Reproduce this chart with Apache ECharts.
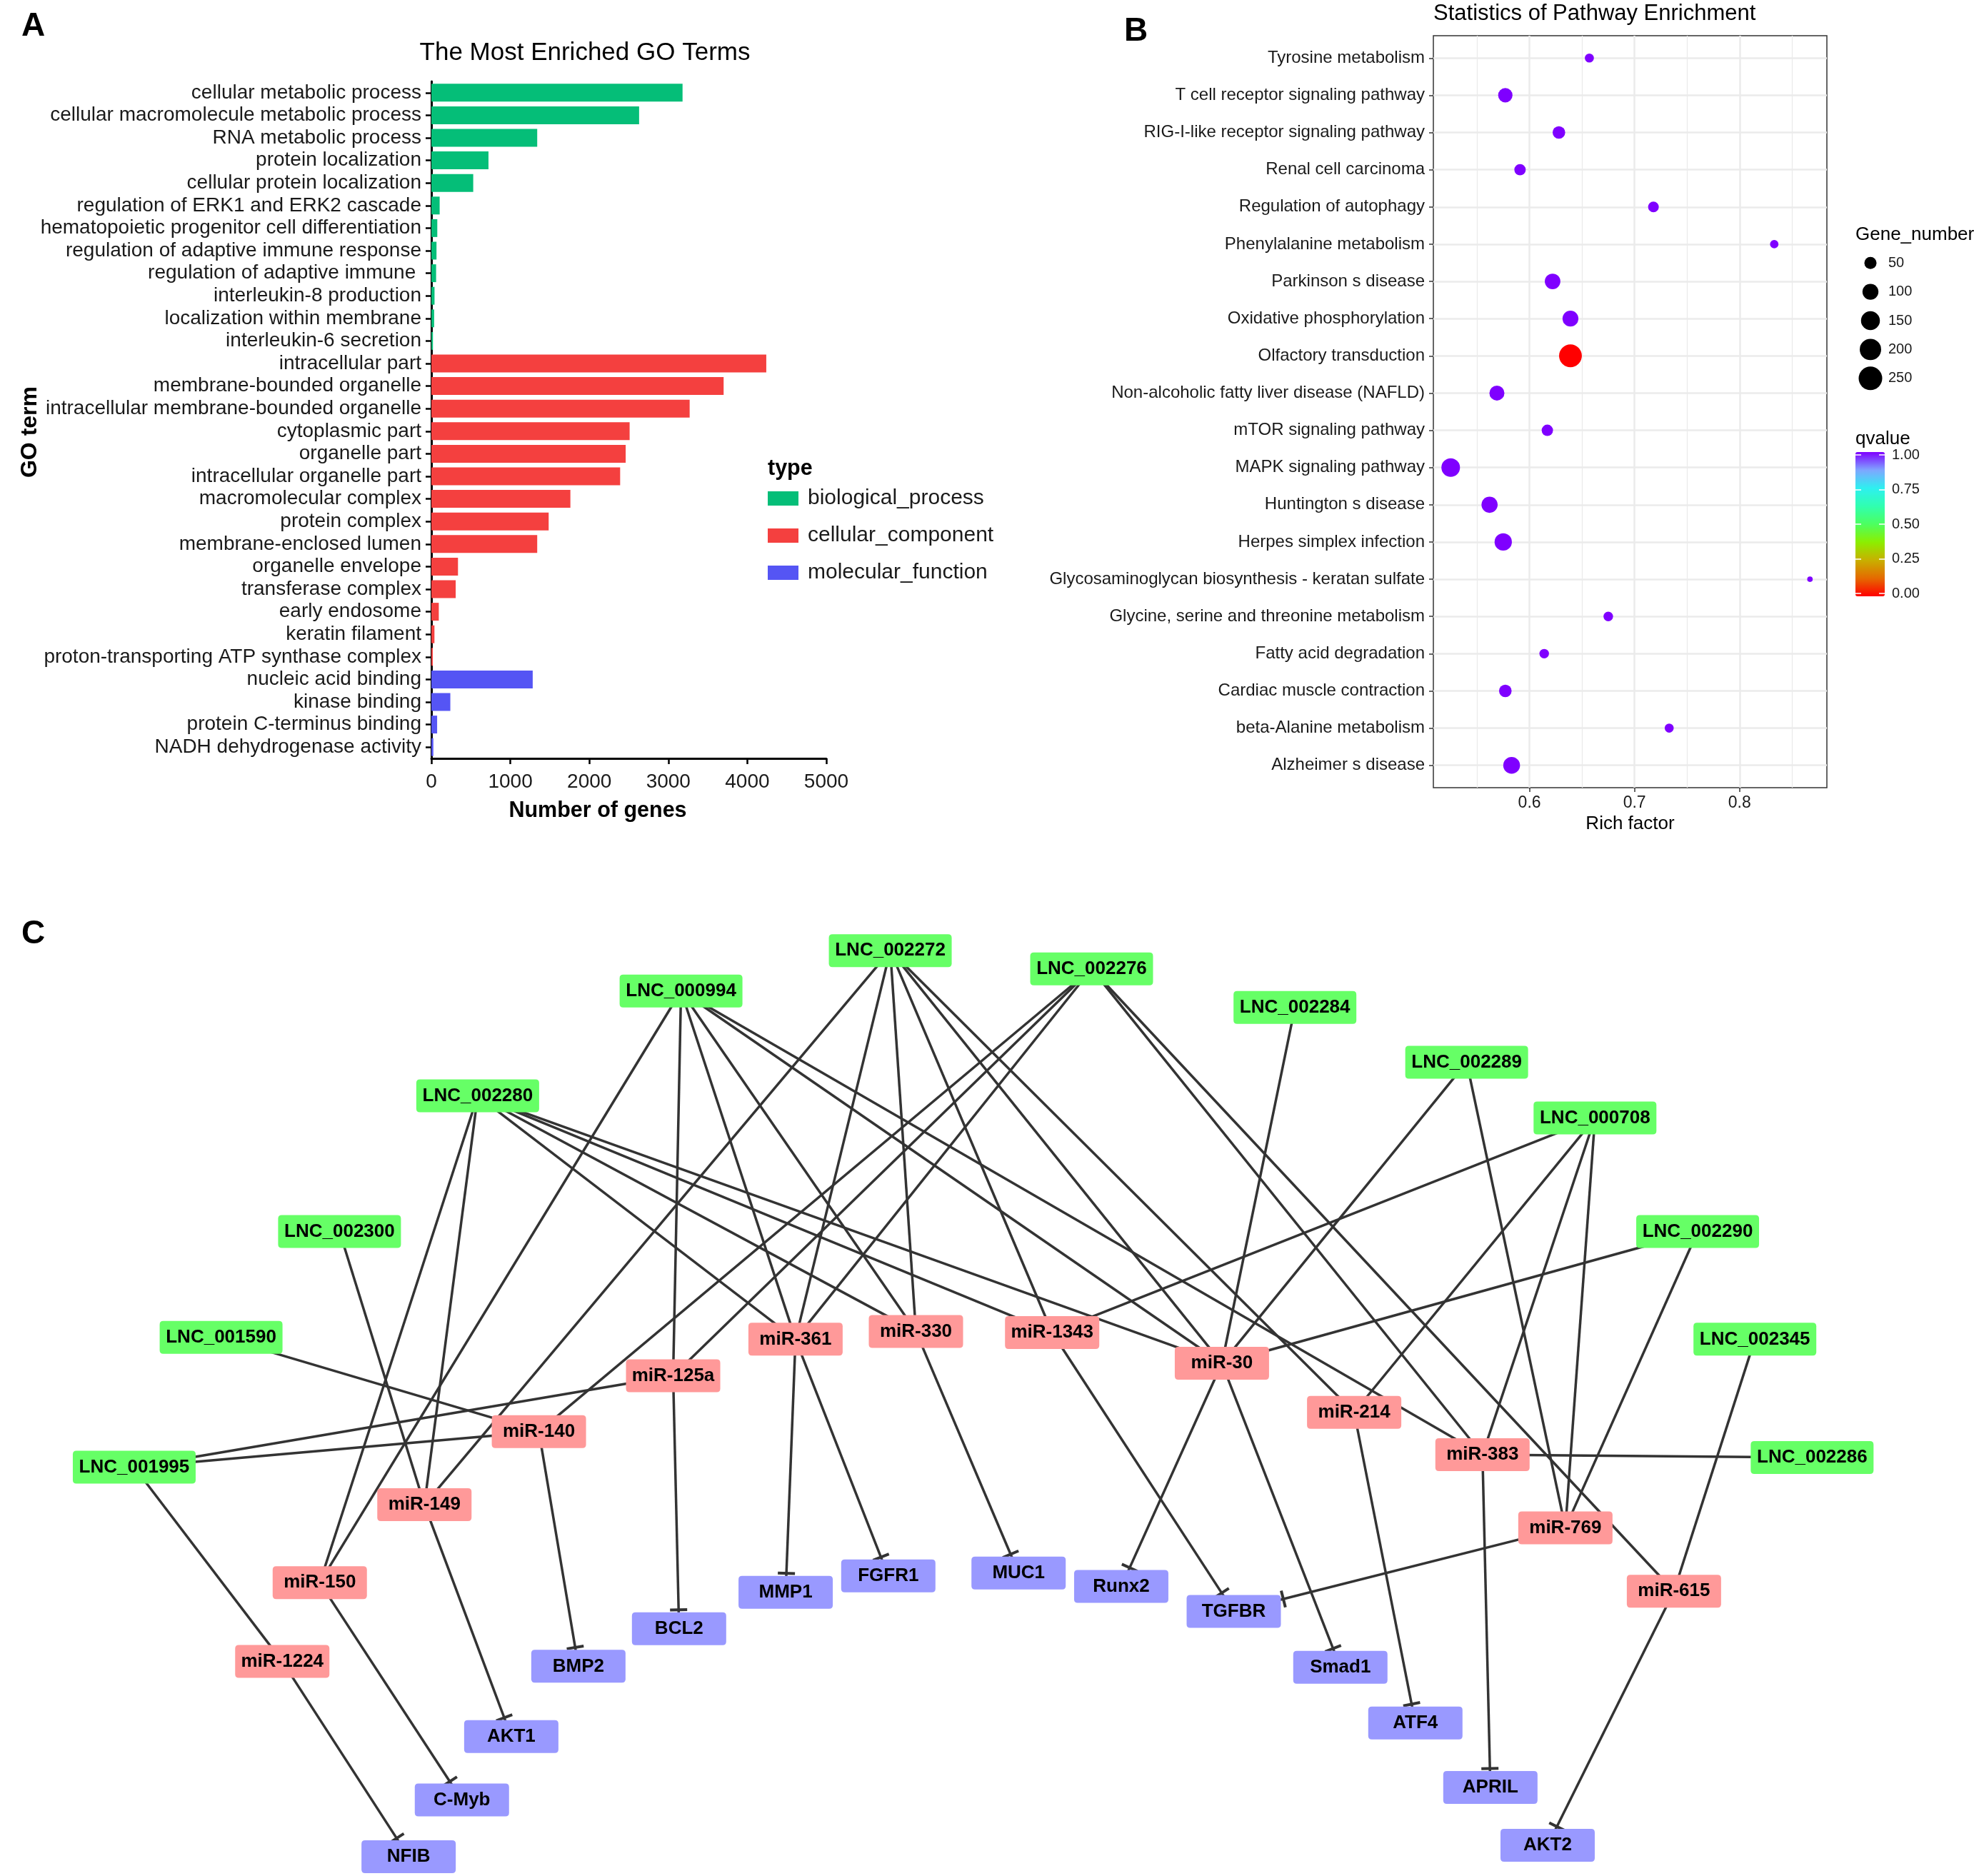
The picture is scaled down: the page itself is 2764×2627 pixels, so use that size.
<!DOCTYPE html>
<html><head><meta charset="utf-8">
<script src="https://cdn.jsdelivr.net/npm/echarts/dist/echarts.min.js"></script>
<style>html,body{margin:0;padding:0;background:#fff}#c{width:2764px;height:2627px}</style>
</head><body><div id="c"></div><script>
// ---------- Panel A data ----------
const bpTerms = ['cellular metabolic process','cellular macromolecule metabolic process','RNA metabolic process','protein localization','cellular protein localization','regulation of ERK1 and ERK2 cascade','hematopoietic progenitor cell differentiation','regulation of adaptive immune response','regulation of adaptive immune ','interleukin-8 production','localization within membrane','interleukin-6 secretion'];
const bpCounts = [3180, 2630, 1340, 723, 530, 105, 75, 65, 60, 40, 35, 20];
const ccTerms = ['intracellular part','membrane-bounded organelle','intracellular membrane-bounded organelle','cytoplasmic part','organelle part','intracellular organelle part','macromolecular complex','protein complex','membrane-enclosed lumen','organelle envelope','transferase complex','early endosome','keratin filament','proton-transporting ATP synthase complex'];
const ccCounts = [4240, 3700, 3270, 2510, 2460, 2390, 1760, 1485, 1340, 337, 308, 94, 39, 18];
const mfTerms = ['nucleic acid binding','kinase binding','protein C-terminus binding','NADH dehydrogenase activity'];
const mfCounts = [1283, 240, 73, 25];
const typeNames = ['biological_process','cellular_component','molecular_function'];
const geneTicks = [0, 1000, 2000, 3000, 4000, 5000];

// ---------- Panel B data ----------
const pathways = ['Tyrosine metabolism','T cell receptor signaling pathway','RIG-I-like receptor signaling pathway','Renal cell carcinoma','Regulation of autophagy','Phenylalanine metabolism','Parkinson s disease','Oxidative phosphorylation','Olfactory transduction','Non-alcoholic fatty liver disease (NAFLD)','mTOR signaling pathway','MAPK signaling pathway','Huntington s disease','Herpes simplex infection','Glycosaminoglycan biosynthesis - keratan sulfate','Glycine, serine and threonine metabolism','Fatty acid degradation','Cardiac muscle contraction','beta-Alanine metabolism','Alzheimer s disease'];
const richFactor = [0.657, 0.577, 0.628, 0.591, 0.718, 0.833, 0.622, 0.639, 0.639, 0.569, 0.617, 0.525, 0.562, 0.575, 0.867, 0.675, 0.614, 0.577, 0.733, 0.583];
const geneNumber = [22, 77, 55, 42, 36, 18, 94, 98, 231, 86, 42, 144, 103, 122, 4, 26, 26, 55, 22, 113];
const qValue = [1, 1, 1, 1, 1, 1, 1, 1, 0, 1, 1, 1, 1, 1, 1, 1, 1, 1, 1, 1];
const richTicks = [0.6, 0.7, 0.8];
const richMinorTicks = [0.55, 0.65, 0.75, 0.85];
const sizeBreaks = [50, 100, 150, 200, 250];
const qTicks = [0, 0.25, 0.5, 0.75, 1];

// ---------- Panel C data (layout units 0-100) ----------
const lncNodes = [
  ['LNC_002272', 45.1, 3.8], ['LNC_000994', 34.5, 8.0], ['LNC_002276', 55.3, 5.7],
  ['LNC_002284', 65.6, 9.7], ['LNC_002289', 74.3, 15.4], ['LNC_000708', 80.8, 21.2],
  ['LNC_002280', 24.2, 18.9], ['LNC_002300', 17.2, 33.0], ['LNC_002290', 86.0, 33.0],
  ['LNC_001590', 11.2, 44.0], ['LNC_002345', 88.9, 44.2], ['LNC_001995', 6.8, 57.5],
  ['LNC_002286', 91.8, 56.5]
];
const mirNodes = [
  ['miR-361', 40.3, 44.2], ['miR-330', 46.4, 43.4], ['miR-1343', 53.3, 43.5],
  ['miR-30', 61.9, 46.7], ['miR-125a', 34.1, 48.0], ['miR-140', 27.3, 53.8],
  ['miR-214', 68.6, 51.8], ['miR-383', 75.1, 56.2], ['miR-149', 21.5, 61.4],
  ['miR-769', 79.3, 63.8], ['miR-150', 16.2, 69.5], ['miR-615', 84.8, 70.4],
  ['miR-1224', 14.3, 77.7]
];
const geneNodes = [
  ['MMP1', 39.8, 70.5], ['FGFR1', 45.0, 68.8], ['MUC1', 51.6, 68.5], ['Runx2', 56.8, 69.9],
  ['TGFBR', 62.5, 72.5], ['BCL2', 34.4, 74.3], ['Smad1', 67.9, 78.3], ['BMP2', 29.3, 78.2],
  ['ATF4', 71.7, 84.1], ['AKT1', 25.9, 85.5], ['APRIL', 75.5, 90.8], ['C-Myb', 23.4, 92.1],
  ['AKT2', 78.4, 96.8], ['NFIB', 20.7, 98.0]
];
const lncMirLinks = [
  ['LNC_002272','miR-149'],['LNC_002272','miR-361'],['LNC_002272','miR-330'],['LNC_002272','miR-1343'],['LNC_002272','miR-30'],['LNC_002272','miR-214'],
  ['LNC_000994','miR-150'],['LNC_000994','miR-125a'],['LNC_000994','miR-361'],['LNC_000994','miR-330'],['LNC_000994','miR-30'],['LNC_000994','miR-383'],
  ['LNC_002276','miR-140'],['LNC_002276','miR-125a'],['LNC_002276','miR-361'],['LNC_002276','miR-383'],['LNC_002276','miR-615'],
  ['LNC_002280','miR-150'],['LNC_002280','miR-149'],['LNC_002280','miR-361'],['LNC_002280','miR-330'],['LNC_002280','miR-1343'],['LNC_002280','miR-30'],
  ['LNC_002300','miR-149'],['LNC_001590','miR-140'],
  ['LNC_001995','miR-125a'],['LNC_001995','miR-140'],['LNC_001995','miR-1224'],
  ['LNC_002284','miR-30'],['LNC_002289','miR-30'],['LNC_002289','miR-769'],
  ['LNC_000708','miR-1343'],['LNC_000708','miR-214'],['LNC_000708','miR-383'],['LNC_000708','miR-769'],
  ['LNC_002290','miR-30'],['LNC_002290','miR-769'],['LNC_002345','miR-615'],['LNC_002286','miR-383']
];
const mirGeneLinks = [
  ['miR-1224','NFIB'],['miR-150','C-Myb'],['miR-149','AKT1'],['miR-140','BMP2'],['miR-125a','BCL2'],
  ['miR-361','MMP1'],['miR-361','FGFR1'],['miR-330','MUC1'],['miR-30','Runx2'],['miR-30','Smad1'],
  ['miR-1343','TGFBR'],['miR-769','TGFBR'],['miR-214','ATF4'],['miR-383','APRIL'],['miR-615','AKT2']
];

// ---------- styling / build ----------
const FONT = '"Liberation Sans", Arial, Helvetica, sans-serif';
const typeColors = ['#05BE78', '#F4403F', '#5555F4'];
const qColors = ['#FF0000','#E56A00','#C8B000','#8CEF00','#4CFF60','#30FFB0','#2EF0F0','#7FA6FF','#7F00FF'];
const dotSize = n => 4.06 + 1.83 * Math.sqrt(n);

const goTerms = bpTerms.concat(ccTerms, mfTerms);
const groupsA = [[bpTerms, bpCounts], [ccTerms, ccCounts], [mfTerms, mfCounts]];
const barSeries = groupsA.map((g, k) => ({
  type: 'bar', name: typeNames[k], xAxisIndex: 0, yAxisIndex: 0, stack: 'go', barWidth: '79%', silent: true,
  itemStyle: { color: typeColors[k] },
  data: goTerms.map(t => { const i = g[0].indexOf(t); return i >= 0 ? g[1][i] : '-'; })
}));

const nodeGroups = [
  { nodes: lncNodes, color: '#66FF66', w: 172 },
  { nodes: mirNodes, color: '#FF9999', w: 132 },
  { nodes: geneNodes, color: '#9999FF', w: 132 }
];
const BOX_H = 46;
function boxPath(w, h) { const r = 5; return `path://M${r} 0 H${w - r} Q${w} 0 ${w} ${r} V${h - r} Q${w} ${h} ${w - r} ${h} H${r} Q0 ${h} 0 ${h - r} V${r} Q0 0 ${r} 0 Z`; }
const nodeVal = {};
nodeGroups.forEach(g => g.nodes.forEach(n => { nodeVal[n[0]] = [n[1], n[2]]; }));
const nodeData = nodeGroups.flatMap(g => g.nodes.map(n => ({
  name: n[0], value: [n[1], n[2]], symbol: boxPath(g.w, BOX_H), symbolSize: [g.w, BOX_H], itemStyle: { color: g.color }
})));
const edgeNodeData = nodeGroups.flatMap(g => g.nodes.map(n => ({ name: n[0], value: [n[1], n[2]] })));
const baseLinks = lncMirLinks.concat(mirGeneLinks).map(l => ({ source: l[0], target: l[1] }));

const axisTxt = { fontFamily: FONT, color: '#1a1a1a' };
const noZero = { show: false, onZero: false };
const option = {
  animation: false,
  backgroundColor: '#ffffff',
  textStyle: { fontFamily: FONT },
  title: [
    { text: 'A', left: 30, top: 14, padding: 0, textStyle: { fontSize: 46, fontWeight: 'bold', color: '#000', fontFamily: FONT } },
    { text: 'The Most Enriched GO Terms', left: 819, top: 57, padding: 0, textAlign: 'center', textStyle: { fontSize: 35, fontWeight: 'normal', color: '#000', fontFamily: FONT } },
    { text: 'Number of genes', left: 837, top: 1120, padding: 0, textAlign: 'center', textStyle: { fontSize: 30.5, fontWeight: 'bold', color: '#000', fontFamily: FONT } },
    { text: 'type', left: 1075, top: 641, padding: 0, textStyle: { fontSize: 30.5, fontWeight: 'bold', color: '#000', fontFamily: FONT } },
    { text: 'B', left: 1574, top: 21, padding: 0, textStyle: { fontSize: 46, fontWeight: 'bold', color: '#000', fontFamily: FONT } },
    { text: 'Statistics of Pathway Enrichment', left: 2007, top: 4, padding: 0, textStyle: { fontSize: 31, fontWeight: 'normal', color: '#000', fontFamily: FONT } },
    { text: 'Gene_number', left: 2598, top: 316, padding: 0, textStyle: { fontSize: 26, fontWeight: 'normal', color: '#000', fontFamily: FONT } },
    { text: 'qvalue', left: 2598, top: 602, padding: 0, textStyle: { fontSize: 26, fontWeight: 'normal', color: '#000', fontFamily: FONT } },
    { text: 'C', left: 30, top: 1285, padding: 0, textStyle: { fontSize: 46, fontWeight: 'bold', color: '#000', fontFamily: FONT } }
  ],
  graphic: [
    { type: 'text', x: 42, y: 605, rotation: Math.PI / 2, silent: true,
      style: { text: 'GO term', font: 'bold 32px ' + FONT, fill: '#000', align: 'center', verticalAlign: 'middle', textAlign: 'center', textVerticalAlign: 'middle' } }
  ],
  legend: {
    data: typeNames, left: 1075, top: 683, orient: 'vertical', itemWidth: 43, itemHeight: 20, itemGap: 22,
    icon: 'rect', padding: 0, selectedMode: false,
    textStyle: { fontSize: 30, color: '#1a1a1a', padding: [0, 0, 0, 8], fontFamily: FONT }
  },
  visualMap: {
    type: 'continuous', seriesIndex: 3, dimension: 3, min: 0, max: 1, left: 2598, top: 633,
    itemWidth: 41, itemHeight: 202, calculable: false, hoverLink: false, padding: 0, orient: 'vertical',
    inRange: { color: qColors }
  },
  grid: [
    { left: 604, top: 114, width: 553, height: 948 },
    { left: 2007, top: 50, width: 551, height: 1053, show: true, borderColor: '#333', borderWidth: 1.5, backgroundColor: 'rgba(0,0,0,0)' },
    { left: 2598, top: 348, width: 42, height: 202 },
    { left: 2598, top: 637, width: 41, height: 194 },
    { left: 0, top: 1280, width: 2764, height: 1347 }
  ],
  xAxis: [
    { type: 'value', gridIndex: 0, min: geneTicks[0], max: geneTicks[geneTicks.length - 1], interval: 1000,
      axisLine: { show: true, onZero: false, lineStyle: { color: '#000', width: 3 } },
      axisTick: { show: true, length: 8, lineStyle: { color: '#000', width: 2.5 } },
      axisLabel: Object.assign({ fontSize: 28, margin: 19, formatter: v => String(v) }, axisTxt), splitLine: { show: false } },
    { type: 'value', gridIndex: 1, min: 0.5085, max: 0.8831,
      axisLine: noZero,
      axisTick: { show: true, customValues: richTicks, length: 6, lineStyle: { color: '#333', width: 1.5 } },
      axisLabel: Object.assign({ customValues: richTicks, fontSize: 23, margin: 10, formatter: v => v.toFixed(1) }, axisTxt),
      splitLine: { show: true, lineStyle: { color: '#EBEBEB', width: 2.5 } },
      name: 'Rich factor', nameLocation: 'middle', nameGap: 38, nameTextStyle: { fontSize: 26, color: '#000', fontFamily: FONT } },
    { type: 'value', gridIndex: 1, position: 'top', min: 0.5085, max: 0.8831,
      axisLine: noZero,
      axisTick: { show: true, customValues: richMinorTicks, length: 0, lineStyle: { color: 'rgba(0,0,0,0)', width: 0 } },
      axisLabel: { show: false, customValues: richMinorTicks },
      splitLine: { show: true, lineStyle: { color: '#EBEBEB', width: 1.3 } } },
    { type: 'value', gridIndex: 2, min: -1, max: 1, show: false, axisLine: noZero },
    { type: 'value', gridIndex: 3, min: 0, max: 1, show: false, axisLine: noZero },
    { type: 'value', gridIndex: 4, min: 0, max: 100, show: false, axisLine: noZero }
  ],
  yAxis: [
    { type: 'category', gridIndex: 0, data: goTerms, inverse: true,
      axisLine: { show: true, onZero: false, lineStyle: { color: '#000', width: 3 } },
      axisTick: { show: true, alignWithLabel: true, interval: 0, length: 8, lineStyle: { color: '#000', width: 2.5 } },
      axisLabel: Object.assign({ fontSize: 28, margin: 14, interval: 0 }, axisTxt) },
    { type: 'value', gridIndex: 1, inverse: true, min: -0.6, max: pathways.length - 0.4,
      axisLine: noZero,
      axisTick: { show: true, customValues: pathways.map((p, i) => i), length: 6, lineStyle: { color: '#333', width: 1.5 } },
      axisLabel: Object.assign({ customValues: pathways.map((p, i) => i), fontSize: 24, margin: 12, formatter: v => pathways[Math.round(v)] }, axisTxt),
      splitLine: { show: true, lineStyle: { color: '#EBEBEB', width: 2.5 } } },
    { type: 'category', gridIndex: 2, data: sizeBreaks.map(String), inverse: true, position: 'right',
      axisLine: noZero, axisTick: { show: false },
      axisLabel: Object.assign({ fontSize: 20, margin: 4 }, axisTxt) },
    { type: 'value', gridIndex: 3, min: qTicks[0], max: qTicks[qTicks.length - 1], interval: 0.25, position: 'right', z: 10,
      axisLine: noZero,
      axisTick: { show: true, inside: true, length: 8, lineStyle: { color: '#fff', width: 1.5 } },
      axisLabel: Object.assign({ fontSize: 20, margin: 10, formatter: v => v.toFixed(2) }, axisTxt),
      splitLine: { show: false } },
    { type: 'value', gridIndex: 3, min: qTicks[0], max: qTicks[qTicks.length - 1], interval: 0.25, position: 'left', z: 10,
      axisLine: noZero,
      axisTick: { show: true, inside: true, length: 8, lineStyle: { color: '#fff', width: 1.5 } },
      axisLabel: { show: false }, splitLine: { show: false } },
    { type: 'value', gridIndex: 4, min: 0, max: 100, inverse: true, show: false, axisLine: noZero }
  ],
  series: barSeries.concat([
    { type: 'scatter', xAxisIndex: 1, yAxisIndex: 1, silent: true,
      data: pathways.map((p, i) => [richFactor[i], i, geneNumber[i], qValue[i]]),
      symbolSize: d => dotSize(d[2]), itemStyle: { opacity: 1 } },
    { type: 'scatter', xAxisIndex: 3, yAxisIndex: 2, silent: true,
      data: sizeBreaks.map((b, i) => [0, i, b]),
      symbolSize: d => dotSize(d[2]), itemStyle: { color: '#000', opacity: 1 } },
    { id: 'edges', type: 'graph', layout: 'none', coordinateSystem: 'cartesian2d', xAxisIndex: 5, yAxisIndex: 5,
      z: 2, silent: true, roam: false, symbol: 'circle', symbolSize: 1,
      itemStyle: { color: 'rgba(0,0,0,0)' }, label: { show: false },
      edgeSymbol: ['none', 'none'], lineStyle: { color: '#333', width: 3.5, opacity: 1, curveness: 0 },
      emphasis: { disabled: true }, data: edgeNodeData, links: baseLinks },
    { id: 'nodes', type: 'graph', layout: 'none', coordinateSystem: 'cartesian2d', xAxisIndex: 5, yAxisIndex: 5,
      z: 3, silent: true, roam: false, emphasis: { disabled: true },
      label: { show: true, position: 'inside', formatter: '{b}', fontSize: 26, fontWeight: 'bold', color: '#000', fontFamily: FONT },
      data: nodeData, links: [] }
  ])
};

const chart = echarts.init(document.getElementById('c'), null, { renderer: 'canvas', width: 2764, height: 2627 });
chart.setOption(option);

// T-bar inhibition ends placed on the target box border
function tbar(t) {
  const half = 12, thick = 4, gap = 1;
  const S = Math.ceil(2 * (t + gap + thick + 2));
  const c = S / 2, y0 = c + t + gap, y1 = y0 + thick;
  return { path: `path://M0 0 M${S} ${S} M${c - half} ${y0} L${c + half} ${y0} L${c + half} ${y1} L${c - half} ${y1} Z`, size: S };
}
const px = name => chart.convertToPixel({ gridIndex: 4 }, nodeVal[name]);
const geneLinks = mirGeneLinks.map(([m, g]) => {
  const a = px(m), b = px(g);
  let dx = a[0] - b[0], dy = a[1] - b[1];
  const L = Math.hypot(dx, dy); dx /= L; dy /= L;
  const hw = 66, hh = BOX_H / 2;
  const t = Math.min(Math.abs(dx) > 1e-6 ? hw / Math.abs(dx) : 1e9, Math.abs(dy) > 1e-6 ? hh / Math.abs(dy) : 1e9);
  const b2 = tbar(t);
  return { source: m, target: g, symbol: ['none', b2.path], symbolSize: [0, b2.size] };
});
chart.setOption({ series: [{ id: 'edges', links: lncMirLinks.map(l => ({ source: l[0], target: l[1] })).concat(geneLinks) }] });
</script></body></html>
